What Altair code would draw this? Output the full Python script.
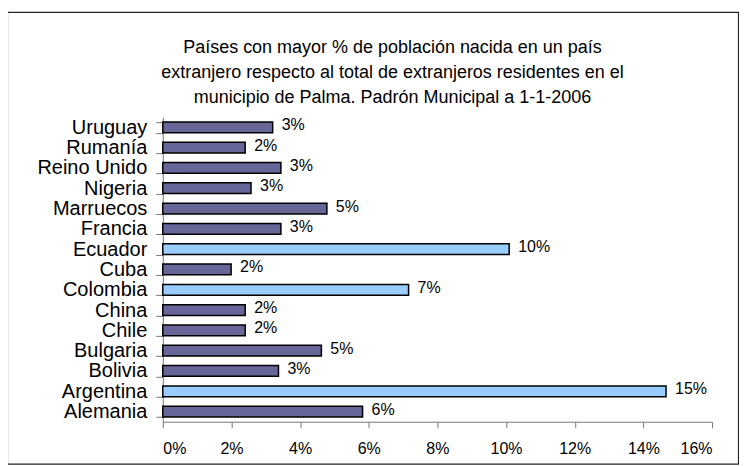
import altair as alt
import pandas as pd

paises = ["Uruguay", "Rumanía", "Reino Unido", "Nigeria", "Marruecos", "Francia",
          "Ecuador", "Cuba", "Colombia", "China", "Chile", "Bulgaria", "Bolivia",
          "Argentina", "Alemania"]
valores = [3.2, 2.4, 3.44, 2.57, 4.78, 3.44, 10.09, 1.99, 7.16, 2.4, 2.4, 4.62, 3.37, 14.66, 5.82]
etiquetas = ["3%", "2%", "3%", "3%", "5%", "3%", "10%", "2%", "7%", "2%", "2%", "5%", "3%", "15%", "6%"]
ticks_x = [0, 2, 4, 6, 8, 10, 12, 14, 16]
titulo = ["Países con mayor % de población nacida en un país",
          "extranjero respecto al total de extranjeros residentes en el",
          "municipio de Palma. Padrón Municipal a 1-1-2006"]

df = pd.DataFrame({"pais": paises, "valor": valores, "etiqueta": etiquetas})

FONT = "Liberation Sans"
W, H = 550, 305

y_enc = alt.Y("pais:N", sort=paises,
              scale=alt.Scale(paddingInner=0.47, paddingOuter=0.235),
              axis=alt.Axis(title=None, tickBand="extent", labelFont=FONT, labelFontSize=20,
                            labelColor="#000", labelPadding=9, tickSize=7,
                            domainColor="#777", tickColor="#777", labelLimit=300))
x_enc = alt.X("valor:Q", scale=alt.Scale(domain=[0, 16], nice=False),
              axis=alt.Axis(title=None, values=ticks_x, labelExpr="datum.value + '%'",
                            grid=False, labelFont=FONT, labelFontSize=16, labelColor="#000",
                            labelPadding=13, tickSize=6, domainColor="#777", tickColor="#777"))

bars = alt.Chart(df).mark_bar(stroke="#000", strokeWidth=1.5).encode(
    x=x_enc, y=y_enc,
    color=alt.condition(alt.datum.valor > 6, alt.value("#99CCFF"), alt.value("#666699")),
)

text = alt.Chart(df).mark_text(align="left", baseline="middle", dx=9, dy=-2,
                               font=FONT, fontSize=16, color="#000").encode(
    x="valor:Q", y=alt.Y("pais:N", sort=paises), text="etiqueta:N")

frame = alt.Chart(alt.Data(values=[{"a": 1}])).mark_rect(
    fill=None, stroke="#222", strokeWidth=1.2).encode(
    x=alt.value(-155.5), x2=alt.value(576.5), y=alt.value(-105), y2=alt.value(347.5))

chart = alt.layer(frame, bars, text).properties(
    width=W, height=H,
    title=alt.TitleParams(titulo, anchor="middle", frame="group", font=FONT, fontSize=18,
                          fontWeight="normal", color="#000", lineHeight=25, dx=-45, dy=95,
                          offset=0),
    autosize=alt.AutoSizeParams(type="none"),
    padding={"left": 155, "top": 109, "right": 27, "bottom": 44},
).configure(background="white").configure_view(strokeWidth=0)

chart.save("out.html", embed_options={"renderer": "svg", "actions": False})
